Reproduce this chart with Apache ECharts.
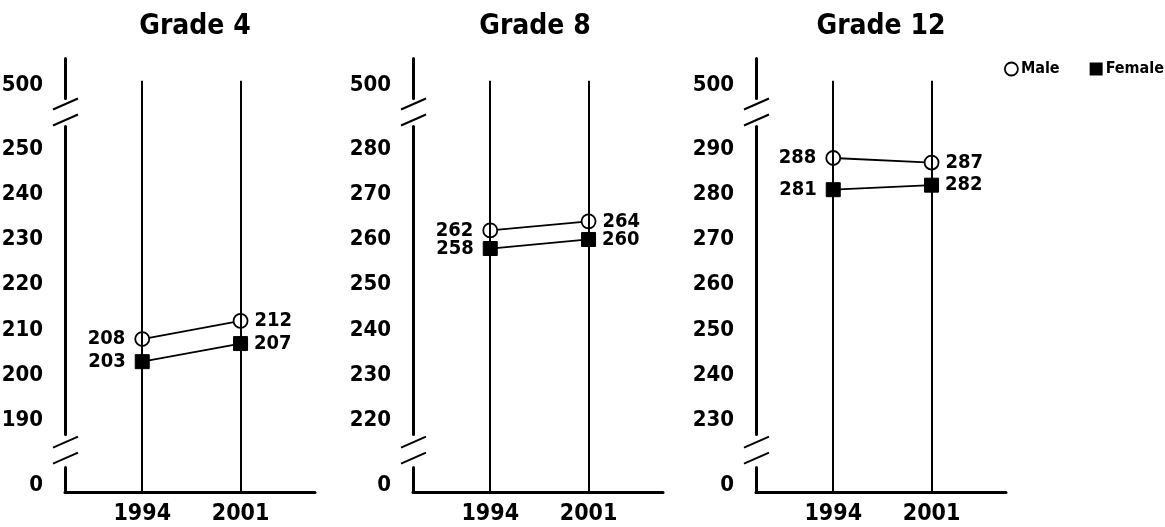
<!DOCTYPE html>
<html>
<head>
<meta charset="utf-8">
<script src="https://cdn.jsdelivr.net/npm/echarts@6/dist/echarts.min.js"></script>
<style>
  html, body { margin: 0; background: #fff; }
  #chart { width: 1165px; height: 527px; }
</style>
</head>
<body>
<div id="chart"></div>
<script>
const years = [1994, 2001]
const grades = ['Grade 4', 'Grade 8', 'Grade 12']
const maleScores = [[208, 212], [262, 264], [288, 287]]
const femaleScores = [[203, 207], [258, 260], [281, 282]]
const yTicks = [
  [0, 190, 200, 210, 220, 230, 240, 250, 500],
  [0, 220, 230, 240, 250, 260, 270, 280, 500],
  [0, 230, 240, 250, 260, 270, 280, 290, 500]
]

// 'condensed' goes into the canvas font shorthand together with the weight
const FONT = "'DejaVu Sans Condensed', 'DejaVu Sans', sans-serif"
const WEIGHT = 'bold condensed'
const panelLeft = [65, 413, 756]
const titleX = [195, 535, 881]
const panelWidth = 250
const yMin = -1.5, yMax = 506

const chart = echarts.init(document.getElementById('chart'))

const grid = [], xAxis = [], yAxis = [], series = [], title = []

grades.forEach((g, i) => {
  const lo = yTicks[i][1], hi = yTicks[i][yTicks[i].length - 2]
  grid.push({ left: panelLeft[i], width: panelWidth, top: 58, height: 434, outerBoundsMode: 'none' })
  title.push({
    text: g, left: titleX[i], top: 13, textAlign: 'center', padding: 0,
    textStyle: { fontFamily: FONT, fontWeight: WEIGHT, fontSize: 28, color: '#000' }
  })
  xAxis.push({
    type: 'value', gridIndex: i, min: 1988.5, max: 2006.3,
    splitLine: { show: false },
    axisTick: { show: false },
    axisLine: { show: true, onZero: false, lineStyle: { color: '#000', width: 3 } },
    axisLabel: {
      customValues: years, margin: 11, color: '#000',
      fontFamily: FONT, fontWeight: WEIGHT, fontSize: 23, formatter: v => String(v)
    }
  })
  yAxis.push({
    type: 'value', gridIndex: i, min: yMin, max: yMax,
    breaks: [
      { start: 4, end: lo - 3, gap: 7.3 },
      { start: hi + 5, end: 497, gap: 6.1 }
    ],
    breakArea: { show: false },
    splitLine: { show: false },
    axisTick: { show: false },
    axisLine: { show: true, onZero: false, lineStyle: { color: '#000', width: 3 } },
    axisLabel: {
      customValues: yTicks[i], margin: 22, color: '#000',
      fontFamily: FONT, fontWeight: WEIGHT, fontSize: 22
    }
  })
  // vertical year lines
  series.push({
    type: 'line', xAxisIndex: i, yAxisIndex: i, data: [], z: 1,
    markLine: {
      silent: true, symbol: 'none', label: { show: false },
      lineStyle: { color: '#000', width: 2, type: 'solid' },
      data: years.map(y => [{ coord: [y, yMin] }, { coord: [y, 501] }])
    }
  })
  const lbl = { show: true, color: '#000', fontFamily: FONT, fontWeight: WEIGHT, fontSize: 20 }
  const pointLabel = k => ({ position: k === 0 ? 'left' : 'right', distance: k === 0 ? 9 : 6 })
  series.push({
    name: 'Male', type: 'line', xAxisIndex: i, yAxisIndex: i, z: 4,
    symbol: 'circle', symbolSize: 14,
    itemStyle: { color: '#fff', borderColor: '#000', borderWidth: 1.8 },
    lineStyle: { color: '#000', width: 1.8 },
    label: { ...lbl, formatter: p => p.value[1] },
    data: years.map((y, k) => ({ value: [y, maleScores[i][k]], label: pointLabel(k) }))
  })
  series.push({
    name: 'Female', type: 'line', xAxisIndex: i, yAxisIndex: i, z: 3,
    symbol: 'rect', symbolSize: 14,
    itemStyle: { color: '#000', borderColor: '#000' },
    lineStyle: { color: '#000', width: 1.8 },
    label: { ...lbl, formatter: p => p.value[1] },
    data: years.map((y, k) => ({ value: [y, femaleScores[i][k]], label: pointLabel(k) }))
  })
})

chart.setOption({
  animation: false,
  title, grid, xAxis, yAxis, series,
  legend: {
    orient: 'horizontal', left: 1004, top: 61, width: 200, itemGap: 30, itemWidth: 13, itemHeight: 13,
    padding: 0,
    data: [
      { name: 'Male', icon: 'circle', itemStyle: { color: '#fff', borderColor: '#000', borderWidth: 1.8 } },
      { name: 'Female', icon: 'rect', itemStyle: { color: '#000' } }
    ],
    textStyle: { fontFamily: FONT, fontWeight: WEIGHT, fontSize: 16, color: '#000', padding: [0, 0, 0, -2] }
  }
})

// axis break marks (double slashes on the y axis line)
const graphic = []
grades.forEach((g, i) => {
  const lo = yTicks[i][1], hi = yTicks[i][yTicks[i].length - 2]
  const x = panelLeft[i]
  ;[[4, lo - 3], [hi + 5, 497]].forEach(([a, b]) => {
    const mid = (chart.convertToPixel({ yAxisIndex: i }, a) + chart.convertToPixel({ yAxisIndex: i }, b)) / 2
    graphic.push({ type: 'rect', shape: { x: x - 4, y: mid - 8, width: 8, height: 16 }, style: { fill: '#fff' }, z: 50 })
    ;[-8, 8].forEach(d => {
      graphic.push({
        type: 'line', z: 51,
        shape: { x1: x - 12, y1: mid + d + 5, x2: x + 13, y2: mid + d - 6 },
        style: { stroke: '#000', lineWidth: 2 }
      })
    })
  })
})
chart.setOption({ graphic })
</script>
</body>
</html>
